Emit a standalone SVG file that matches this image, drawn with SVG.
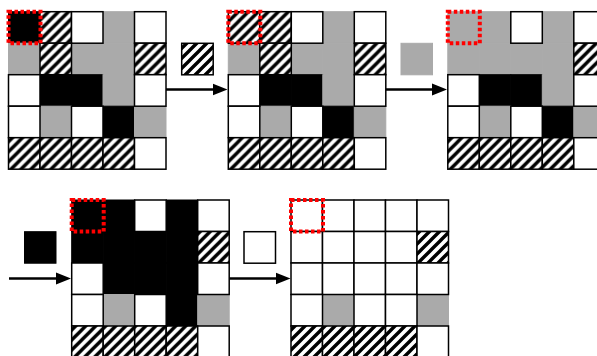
<svg xmlns="http://www.w3.org/2000/svg" width="597" height="356" viewBox="0 0 597 356">
<defs>
<pattern id="hatch" patternUnits="userSpaceOnUse" width="10" height="10">
<rect width="10" height="10" fill="#fff"/>
<path d="M-2.5,12.5 L12.5,-2.5 M-7.5,7.5 L7.5,-7.5 M2.5,17.5 L17.5,2.5" stroke="#000" stroke-width="3.4"/>
</pattern>
<marker id="ah" markerUnits="userSpaceOnUse" markerWidth="16" markerHeight="14" refX="1" refY="7" orient="auto">
<path d="M0,1 L15,7 L0,13 z" fill="#000"/>
</marker>
</defs>
<style>
.w{fill:#fff;stroke:#000;stroke-width:1.5}
.h{fill:url(#hatch);stroke:#000;stroke-width:1.5}
.g{fill:#aaa;stroke:#aaa;stroke-width:1}
.b{fill:#000;stroke:#000;stroke-width:1}
.sel{fill:none;stroke:#f00;stroke-width:4;stroke-dasharray:3.5 2.5}
.sw{fill:#fff;stroke:#000;stroke-width:1.5}
.ar{stroke:#000;stroke-width:2.6;fill:none}
</style>
<rect width="597" height="356" fill="#fff"/>

<g id="grid1" transform="translate(8.5,11.7)">
<rect class="b" x="0" y="0" width="31.5" height="31.5"/>
<rect class="g" x="94.5" y="0" width="31.5" height="31.5"/>
<rect class="g" x="0" y="31.5" width="31.5" height="31.5"/>
<rect class="g" x="63" y="31.5" width="31.5" height="31.5"/>
<rect class="g" x="94.5" y="31.5" width="31.5" height="31.5"/>
<rect class="b" x="31.5" y="63" width="31.5" height="31.5"/>
<rect class="b" x="63" y="63" width="31.5" height="31.5"/>
<rect class="g" x="94.5" y="63" width="31.5" height="31.5"/>
<rect class="g" x="31.5" y="94.5" width="31.5" height="31.5"/>
<rect class="b" x="94.5" y="94.5" width="31.5" height="31.5"/>
<rect class="g" x="126" y="94.5" width="31.5" height="31.5"/>
<rect class="h" x="31.5" y="0" width="31.5" height="31.5"/>
<rect class="w" x="63" y="0" width="31.5" height="31.5"/>
<rect class="w" x="126" y="0" width="31.5" height="31.5"/>
<rect class="h" x="31.5" y="31.5" width="31.5" height="31.5"/>
<rect class="h" x="126" y="31.5" width="31.5" height="31.5"/>
<rect class="w" x="0" y="63" width="31.5" height="31.5"/>
<rect class="w" x="126" y="63" width="31.5" height="31.5"/>
<rect class="w" x="0" y="94.5" width="31.5" height="31.5"/>
<rect class="w" x="63" y="94.5" width="31.5" height="31.5"/>
<rect class="h" x="0" y="126" width="31.5" height="31.5"/>
<rect class="h" x="31.5" y="126" width="31.5" height="31.5"/>
<rect class="h" x="63" y="126" width="31.5" height="31.5"/>
<rect class="h" x="94.5" y="126" width="31.5" height="31.5"/>
<rect class="w" x="126" y="126" width="31.5" height="31.5"/>
<rect class="sel" x="0" y="0" width="32" height="31.5"/>
</g>

<g id="swatch1"><rect class="h" x="181.7" y="43.3" width="31.5" height="31.5"/></g>

<g id="grid2" transform="translate(228.3,11.7)">
<rect class="g" x="94.5" y="0" width="31.5" height="31.5"/>
<rect class="g" x="0" y="31.5" width="31.5" height="31.5"/>
<rect class="g" x="63" y="31.5" width="31.5" height="31.5"/>
<rect class="g" x="94.5" y="31.5" width="31.5" height="31.5"/>
<rect class="b" x="31.5" y="63" width="31.5" height="31.5"/>
<rect class="b" x="63" y="63" width="31.5" height="31.5"/>
<rect class="g" x="94.5" y="63" width="31.5" height="31.5"/>
<rect class="g" x="31.5" y="94.5" width="31.5" height="31.5"/>
<rect class="b" x="94.5" y="94.5" width="31.5" height="31.5"/>
<rect class="g" x="126" y="94.5" width="31.5" height="31.5"/>
<rect class="h" x="0" y="0" width="31.5" height="31.5"/>
<rect class="h" x="31.5" y="0" width="31.5" height="31.5"/>
<rect class="w" x="63" y="0" width="31.5" height="31.5"/>
<rect class="w" x="126" y="0" width="31.5" height="31.5"/>
<rect class="h" x="31.5" y="31.5" width="31.5" height="31.5"/>
<rect class="h" x="126" y="31.5" width="31.5" height="31.5"/>
<rect class="w" x="0" y="63" width="31.5" height="31.5"/>
<rect class="w" x="126" y="63" width="31.5" height="31.5"/>
<rect class="w" x="0" y="94.5" width="31.5" height="31.5"/>
<rect class="w" x="63" y="94.5" width="31.5" height="31.5"/>
<rect class="h" x="0" y="126" width="31.5" height="31.5"/>
<rect class="h" x="31.5" y="126" width="31.5" height="31.5"/>
<rect class="h" x="63" y="126" width="31.5" height="31.5"/>
<rect class="h" x="94.5" y="126" width="31.5" height="31.5"/>
<rect class="w" x="126" y="126" width="31.5" height="31.5"/>
<rect class="sel" x="0" y="0" width="32" height="31.5"/>
</g>

<g id="swatch2"><rect class="g" x="401" y="43.3" width="31.5" height="31.5"/></g>

<g id="grid3" transform="translate(447.8,11.7)">
<rect class="g" x="0" y="0" width="31.5" height="31.5"/>
<rect class="g" x="31.5" y="0" width="31.5" height="31.5"/>
<rect class="g" x="94.5" y="0" width="31.5" height="31.5"/>
<rect class="g" x="0" y="31.5" width="31.5" height="31.5"/>
<rect class="g" x="31.5" y="31.5" width="31.5" height="31.5"/>
<rect class="g" x="63" y="31.5" width="31.5" height="31.5"/>
<rect class="g" x="94.5" y="31.5" width="31.5" height="31.5"/>
<rect class="b" x="31.5" y="63" width="31.5" height="31.5"/>
<rect class="b" x="63" y="63" width="31.5" height="31.5"/>
<rect class="g" x="94.5" y="63" width="31.5" height="31.5"/>
<rect class="g" x="31.5" y="94.5" width="31.5" height="31.5"/>
<rect class="b" x="94.5" y="94.5" width="31.5" height="31.5"/>
<rect class="g" x="126" y="94.5" width="31.5" height="31.5"/>
<rect class="w" x="63" y="0" width="31.5" height="31.5"/>
<rect class="w" x="126" y="0" width="31.5" height="31.5"/>
<rect class="h" x="126" y="31.5" width="31.5" height="31.5"/>
<rect class="w" x="0" y="63" width="31.5" height="31.5"/>
<rect class="w" x="126" y="63" width="31.5" height="31.5"/>
<rect class="w" x="0" y="94.5" width="31.5" height="31.5"/>
<rect class="w" x="63" y="94.5" width="31.5" height="31.5"/>
<rect class="h" x="0" y="126" width="31.5" height="31.5"/>
<rect class="h" x="31.5" y="126" width="31.5" height="31.5"/>
<rect class="h" x="63" y="126" width="31.5" height="31.5"/>
<rect class="h" x="94.5" y="126" width="31.5" height="31.5"/>
<rect class="w" x="126" y="126" width="31.5" height="31.5"/>
<rect class="sel" x="0" y="0" width="32" height="31.5"/>
</g>

<g id="swatch3"><rect class="b" x="24.5" y="231.7" width="31.5" height="31.5"/></g>

<g id="grid4" transform="translate(71.7,200)">
<rect class="b" x="0" y="0" width="31.5" height="31.5"/>
<rect class="b" x="31.5" y="0" width="31.5" height="31.5"/>
<rect class="b" x="94.5" y="0" width="31.5" height="31.5"/>
<rect class="b" x="0" y="31.5" width="31.5" height="31.5"/>
<rect class="b" x="31.5" y="31.5" width="31.5" height="31.5"/>
<rect class="b" x="63" y="31.5" width="31.5" height="31.5"/>
<rect class="b" x="94.5" y="31.5" width="31.5" height="31.5"/>
<rect class="b" x="31.5" y="63" width="31.5" height="31.5"/>
<rect class="b" x="63" y="63" width="31.5" height="31.5"/>
<rect class="b" x="94.5" y="63" width="31.5" height="31.5"/>
<rect class="g" x="31.5" y="94.5" width="31.5" height="31.5"/>
<rect class="b" x="94.5" y="94.5" width="31.5" height="31.5"/>
<rect class="g" x="126" y="94.5" width="31.5" height="31.5"/>
<rect class="w" x="63" y="0" width="31.5" height="31.5"/>
<rect class="w" x="126" y="0" width="31.5" height="31.5"/>
<rect class="h" x="126" y="31.5" width="31.5" height="31.5"/>
<rect class="w" x="0" y="63" width="31.5" height="31.5"/>
<rect class="w" x="126" y="63" width="31.5" height="31.5"/>
<rect class="w" x="0" y="94.5" width="31.5" height="31.5"/>
<rect class="w" x="63" y="94.5" width="31.5" height="31.5"/>
<rect class="h" x="0" y="126" width="31.5" height="31.5"/>
<rect class="h" x="31.5" y="126" width="31.5" height="31.5"/>
<rect class="h" x="63" y="126" width="31.5" height="31.5"/>
<rect class="h" x="94.5" y="126" width="31.5" height="31.5"/>
<rect class="w" x="126" y="126" width="31.5" height="31.5"/>
<rect class="sel" x="0" y="0" width="32" height="31.5"/>
</g>

<g id="swatch4"><rect class="sw" x="244" y="231.7" width="31.5" height="31.5"/></g>

<g id="grid5" transform="translate(291,200)">
<rect class="g" x="31.5" y="94.5" width="31.5" height="31.5"/>
<rect class="g" x="126" y="94.5" width="31.5" height="31.5"/>
<rect class="w" x="0" y="0" width="31.5" height="31.5"/>
<rect class="w" x="31.5" y="0" width="31.5" height="31.5"/>
<rect class="w" x="63" y="0" width="31.5" height="31.5"/>
<rect class="w" x="94.5" y="0" width="31.5" height="31.5"/>
<rect class="w" x="126" y="0" width="31.5" height="31.5"/>
<rect class="w" x="0" y="31.5" width="31.5" height="31.5"/>
<rect class="w" x="31.5" y="31.5" width="31.5" height="31.5"/>
<rect class="w" x="63" y="31.5" width="31.5" height="31.5"/>
<rect class="w" x="94.5" y="31.5" width="31.5" height="31.5"/>
<rect class="h" x="126" y="31.5" width="31.5" height="31.5"/>
<rect class="w" x="0" y="63" width="31.5" height="31.5"/>
<rect class="w" x="31.5" y="63" width="31.5" height="31.5"/>
<rect class="w" x="63" y="63" width="31.5" height="31.5"/>
<rect class="w" x="94.5" y="63" width="31.5" height="31.5"/>
<rect class="w" x="126" y="63" width="31.5" height="31.5"/>
<rect class="w" x="0" y="94.5" width="31.5" height="31.5"/>
<rect class="w" x="63" y="94.5" width="31.5" height="31.5"/>
<rect class="w" x="94.5" y="94.5" width="31.5" height="31.5"/>
<rect class="h" x="0" y="126" width="31.5" height="31.5"/>
<rect class="h" x="31.5" y="126" width="31.5" height="31.5"/>
<rect class="h" x="63" y="126" width="31.5" height="31.5"/>
<rect class="h" x="94.5" y="126" width="31.5" height="31.5"/>
<rect class="w" x="126" y="126" width="31.5" height="31.5"/>
<rect class="sel" x="0" y="0" width="32" height="31.5"/>
</g>

<g id="connectors">
<line class="ar" x1="166" y1="89.5" x2="213.5" y2="89.5" marker-end="url(#ah)"/>
<line class="ar" x1="386" y1="89.5" x2="433" y2="89.5" marker-end="url(#ah)"/>
<line class="ar" x1="9" y1="278.5" x2="57" y2="278.5" marker-end="url(#ah)"/>
<line class="ar" x1="229" y1="278.5" x2="276.5" y2="278.5" marker-end="url(#ah)"/>
</g>
</svg>
